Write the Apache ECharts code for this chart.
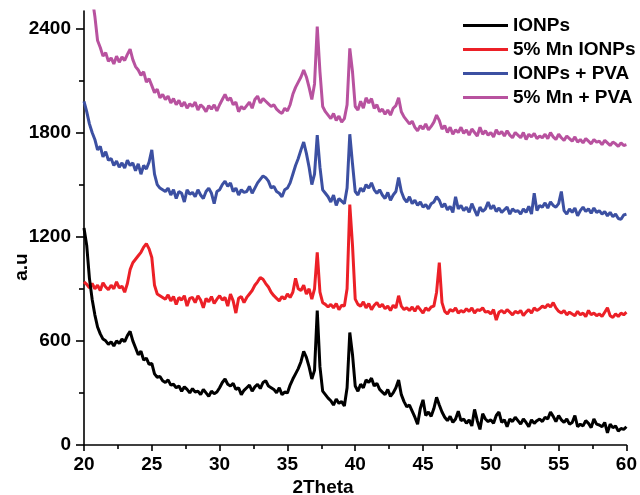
<!DOCTYPE html>
<html>
<head>
<meta charset="utf-8">
<script src="https://cdn.jsdelivr.net/npm/echarts@6/dist/echarts.min.js"></script>
<style>
  html, body { margin: 0; padding: 0; background: #fff; }
  #chart { width: 640px; height: 495px; }
</style>
</head>
<body>
<div id="chart"></div>
<script>
// XRD scans, 2θ from 20° to 60° in 0.2° steps
const scanStart = 20;
const scanStep = 0.2;

const seriesNames = ['IONPs', '5% Mn IONPs', 'IONPs + PVA', '5% Mn + PVA'];

const ionps = [
  1250, 1150, 960, 840, 750, 680, 640, 610, 600, 580,
  595, 570, 600, 585, 610, 595, 630, 655, 600, 560,
  520, 540, 490, 500, 465, 470, 410, 390, 395, 370,
  360, 375, 345, 350, 330, 340, 310, 335, 320, 300,
  325, 305, 310, 290, 320, 300, 280, 310, 295, 305,
  330, 360, 380, 350, 340, 355, 320, 330, 290, 315,
  330, 345, 310, 335, 350, 325, 360, 370, 340, 330,
  320, 300, 330, 290, 305, 300, 345, 380, 410, 440,
  480, 540, 505, 450, 380, 430, 775, 450, 310, 290,
  270, 255, 230, 265, 240, 250, 225, 330, 648, 520,
  340, 310, 350, 330, 375, 360, 385, 340, 355, 320,
  305, 290, 320, 280, 300, 330, 375, 290, 250, 220,
  230, 195, 160, 120, 210, 260, 170, 190, 165, 210,
  275, 230, 190, 160, 140, 165, 130, 150, 195, 140,
  150, 125, 145, 110, 205, 140, 90, 180, 150, 135,
  145, 125, 170, 190, 130, 145, 105, 150, 135, 160,
  140, 120, 150, 130, 105, 145, 125, 140, 150, 135,
  160, 150, 190, 165, 135, 170, 145, 130, 150, 120,
  130, 170, 105, 120, 110, 140, 125, 100, 150, 120,
  115, 105, 130, 70, 120, 100, 110, 80, 95, 90,
  105
];

const mnIonps = [
  940, 925, 905, 930, 900, 920, 890, 935, 910, 895,
  920, 900, 940, 905, 915, 880, 930, 1010, 1050, 1070,
  1090, 1110, 1140, 1160, 1130, 1080, 920, 870, 860, 850,
  840, 865, 830, 855, 810, 850, 835, 860, 800, 845,
  850, 820, 860, 835, 790, 845, 825, 855, 815, 840,
  860, 835, 850, 800, 870, 830, 760, 845, 855, 820,
  850, 870, 890, 920, 940, 965, 955, 930, 910, 880,
  860, 845, 830, 855, 840, 870, 850, 880, 960, 900,
  890, 920, 870, 900, 840, 900, 1110, 880, 820, 810,
  795, 810, 790, 815, 780, 805, 800, 900, 1385, 1150,
  840, 810, 800, 825, 790, 815, 780, 805, 820, 795,
  810, 785, 800, 775, 805, 790, 860, 800, 780, 790,
  775, 795, 770, 800, 780, 760, 790, 775, 795, 800,
  880, 1050, 820, 770, 755, 780, 770, 790, 760, 775,
  765, 785, 770, 790, 760, 780, 775, 790, 765, 770,
  755, 780, 720, 765, 775, 760, 780, 765, 750, 770,
  760, 775, 745, 765, 780, 760, 790, 775, 785, 800,
  790, 810, 795, 820, 790, 770, 760, 775, 750, 765,
  755, 745, 770, 750, 760, 740, 775, 750, 760, 745,
  755, 740, 765, 790, 745, 735, 755, 740, 760, 750,
  765
];

const ionpsPva = [
  1980, 1920, 1850, 1800, 1760, 1700, 1720, 1660, 1690, 1640,
  1650, 1610, 1635, 1600, 1625, 1595, 1640, 1610, 1625, 1580,
  1620, 1560, 1610, 1590, 1630, 1700, 1560, 1500, 1480, 1470,
  1460, 1480, 1440, 1470, 1420, 1460, 1450, 1400, 1470, 1445,
  1455, 1430, 1470, 1440, 1420, 1460, 1480, 1450, 1390, 1460,
  1470, 1500, 1520, 1490, 1510, 1460, 1480, 1440, 1470, 1455,
  1460, 1490, 1450, 1480, 1510, 1530, 1550, 1540, 1520, 1480,
  1490, 1460, 1450, 1430, 1470, 1480, 1510, 1560, 1610, 1650,
  1700, 1745, 1680, 1600, 1500, 1560, 1785, 1600, 1470, 1450,
  1430, 1400, 1440, 1380, 1420, 1405, 1390, 1480, 1790, 1620,
  1460, 1440, 1480, 1460, 1500, 1480, 1510, 1470, 1450, 1470,
  1440, 1420, 1455, 1410, 1440, 1460, 1540, 1460, 1420, 1400,
  1430, 1390, 1410, 1380, 1400, 1370, 1385, 1360, 1390, 1400,
  1430, 1410, 1370, 1390, 1355, 1375, 1340, 1430, 1360, 1380,
  1350, 1370, 1340, 1390, 1355, 1320, 1370, 1345, 1360, 1400,
  1360, 1380, 1345, 1365, 1340, 1355, 1370, 1330, 1360, 1345,
  1350, 1330, 1360, 1340, 1375, 1330, 1450, 1350, 1380, 1370,
  1395, 1365, 1400, 1380, 1370, 1390, 1460, 1350, 1330, 1360,
  1340, 1365, 1320, 1350, 1370, 1345, 1360, 1335, 1365, 1340,
  1350, 1330, 1345, 1320, 1340, 1315, 1330, 1305, 1300, 1325,
  1330
];

const mnPva = [
  2900, 2800, 2700, 2580, 2470, 2330, 2290, 2240, 2260, 2210,
  2230, 2195, 2240, 2205, 2235, 2215, 2250, 2280, 2220, 2180,
  2160, 2130, 2150, 2090, 2110, 2070, 2030, 2050, 2000, 2020,
  1990, 2010, 1970, 1995, 1960, 1985, 1950, 1975, 1940, 1965,
  1950, 1975, 1930, 1960, 1945, 1920, 1955, 1935, 1960, 1925,
  1960, 1990, 2020, 1985, 2000, 1960, 1975, 1920, 1950, 1935,
  1955, 1975, 1940, 1990, 2010, 1970, 1995, 1980, 1965, 1950,
  1960, 1935, 1920, 1910, 1940, 1925, 1960, 2020, 2060, 2090,
  2120, 2160, 2120, 2060, 1990, 2080, 2410, 2150, 1950, 1920,
  1900, 1880, 1910, 1870, 1895, 1860, 1880, 1960, 2285, 2150,
  1950, 1930, 1980, 1940, 2000, 1970, 1995, 1940, 1960, 1920,
  1935, 1905, 1930, 1900, 1940, 1955, 2000, 1920, 1890, 1870,
  1850, 1865, 1830, 1810, 1840, 1820, 1850, 1815, 1835, 1860,
  1900, 1870, 1820, 1840, 1800, 1830, 1790, 1815, 1800, 1830,
  1795, 1815, 1785, 1820, 1800, 1780, 1830, 1790, 1810, 1785,
  1800, 1775, 1815, 1790, 1805, 1780, 1810, 1785, 1770, 1800,
  1785, 1770, 1800, 1760, 1790, 1775, 1795, 1765, 1780, 1770,
  1790, 1765, 1800, 1775, 1760, 1790, 1770, 1755, 1780, 1765,
  1750, 1775, 1745, 1760, 1740, 1765, 1750, 1735, 1760, 1745,
  1750, 1730, 1755, 1740, 1725, 1745, 1735, 1720, 1740, 1725,
  1730
];

const yMajorTicks = [0, 600, 1200, 1800, 2400];
const yMinorTicks = [300, 900, 1500, 2100];

const colors = ['#000000', '#ec2027', '#3c50a2', '#b8529f'];
const FONT = '"Liberation Sans", Arial, Helvetica, sans-serif';

function toPairs(values) {
  return values.map((v, i) => [+(scanStart + i * scanStep).toFixed(1), v]);
}

const chart = echarts.init(document.getElementById('chart'), null, { renderer: 'canvas' });

const axisLineStyle = { color: '#000', width: 1.6 };
const labelStyle = { color: '#000', fontSize: 19, fontWeight: 'bold', fontFamily: FONT };

const dataSets = [ionps, mnIonps, ionpsPva, mnPva];
const zOrder = [5, 4, 3, 2];

chart.setOption({
  animation: false,
  backgroundColor: '#fff',
  color: colors,
  grid: { left: 84, right: 11, top: 11, bottom: 50, containLabel: false },
  legend: {
    data: seriesNames,
    orient: 'vertical',
    left: 463,
    top: 16,
    padding: 0,
    icon: 'rect',
    itemWidth: 45,
    itemHeight: 3,
    itemGap: 5,
    textStyle: { color: '#000', fontSize: 19, fontWeight: 'bold', fontFamily: FONT, lineHeight: 19 }
  },
  xAxis: {
    type: 'value',
    min: 20,
    max: 60,
    interval: 5,
    axisLine: { show: true, onZero: false, lineStyle: axisLineStyle },
    axisTick: { show: true, inside: false, length: 6, lineStyle: axisLineStyle },
    minorTick: { show: true, splitNumber: 2, length: 4, lineStyle: axisLineStyle },
    axisLabel: Object.assign({ margin: 10, formatter: (v) => String(v) }, labelStyle),
    splitLine: { show: false }
  },
  yAxis: [
    {
      type: 'value',
      min: 0,
      max: 2500,
      axisLine: { show: true, onZero: false, lineStyle: axisLineStyle },
      axisTick: { show: true, inside: false, length: 8, customValues: yMajorTicks, lineStyle: axisLineStyle },
      axisLabel: Object.assign({ margin: 13, customValues: yMajorTicks, formatter: (v) => String(v) }, labelStyle),
      splitLine: { show: false }
    },
    {
      type: 'value',
      min: 0,
      max: 2500,
      position: 'left',
      axisLine: { show: false },
      axisTick: { show: true, inside: false, length: 5, customValues: yMinorTicks, lineStyle: axisLineStyle },
      axisLabel: { show: false },
      splitLine: { show: false }
    }
  ],
  graphic: [
    {
      type: 'text',
      x: 22,
      y: 267,
      rotation: Math.PI / 2,
      style: { text: 'a.u', font: 'bold 19px ' + FONT, fill: '#000', textAlign: 'center', textVerticalAlign: 'middle' }
    },
    {
      type: 'text',
      x: 323,
      y: 488,
      style: { text: '2Theta', font: 'bold 19px ' + FONT, fill: '#000', textAlign: 'center', textVerticalAlign: 'middle' }
    }
  ],
  series: dataSets.map((vals, k) => ({
    name: seriesNames[k],
    type: 'line',
    xAxisIndex: 0,
    yAxisIndex: 0,
    data: toPairs(vals),
    showSymbol: false,
    symbol: 'none',
    clip: true,
    z: zOrder[k],
    lineStyle: { color: colors[k], width: 3 },
    itemStyle: { color: colors[k] }
  }))
});
</script>
</body>
</html>
